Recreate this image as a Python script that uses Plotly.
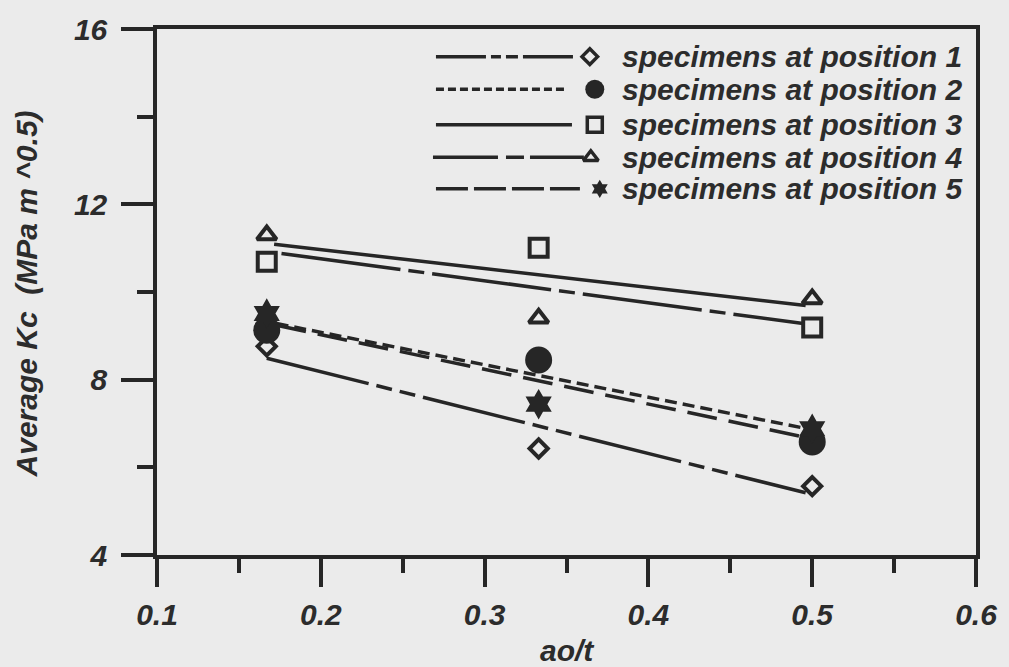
import plotly.graph_objects as go

# ---------------- data ----------------
ao_t = [0.167, 0.333, 0.5]
kc_pos1 = [8.76, 6.43, 5.57]
kc_pos2 = [9.13, 8.45, 6.58]
kc_pos3 = [10.69, 11.01, 9.19]
kc_pos4 = [11.30, 9.40, 9.84]
kc_pos5 = [9.51, 7.44, 6.88]

# trend-line end points
fit1_x = [0.167, 0.496]
fit1_y = [8.49, 5.42]
fit2_x = [0.173, 0.493]
fit2_y = [9.28, 6.91]
fit3_x = [0.1715, 0.496]
fit3_y = [11.09, 9.69]
fit4_x = [0.176, 0.4945]
fit4_y = [10.88, 9.28]
fit5_x = [0.173, 0.494]
fit5_y = [9.24, 6.70]

series_names = [
    "specimens at position 1",
    "specimens at position 2",
    "specimens at position 3",
    "specimens at position 4",
    "specimens at position 5",
]
x_ticks = [0.1, 0.2, 0.3, 0.4, 0.5, 0.6]
y_ticks = [4, 8, 12, 16]

# ---------------- styles ----------------
INK = "#262626"
TXT = "#2c2c2c"
BG = "#ebebeb"
FONT = "Liberation Sans, Arial, sans-serif"

W, H = 1009, 667
ML, MR, MT, MB = 157, 27, 22, 112
PW, PH = W - ML - MR, H - MT - MB

kc = [kc_pos1, kc_pos2, kc_pos3, kc_pos4, kc_pos5]
fits = [(fit1_x, fit1_y), (fit2_x, fit2_y), (fit3_x, fit3_y), (fit4_x, fit4_y), (fit5_x, fit5_y)]

symbols = ["diamond-open", "circle", "square-open", "triangle-up-open", "hexagram"]
sizes = [14, 27, 18, 17, 23]
leg_sizes = [12, 19, 15, 13, 14]
plot_dash = ["105px,8px,16px,8px,16px,8px", "12px,6px", "solid", "120px,8px,16px,8px", "30px,12px"]
leg_dash = ["50px,5px,10px,5px,12px,5px", "8px,4px", "solid", "65px,8px,18px,6px", "32px,6px"]

fig = go.Figure()

for i in range(5):
    fx, fy = fits[i]
    fig.add_trace(go.Scatter(
        x=fx, y=fy, mode="lines",
        line=dict(color=INK, width=3.5, dash=plot_dash[i]),
        showlegend=False, hoverinfo="skip"))

for i in range(5):
    filled = not symbols[i].endswith("open")
    fig.add_trace(go.Scatter(
        x=ao_t, y=kc[i], mode="markers",
        marker=dict(symbol=symbols[i], size=sizes[i], color=INK,
                    line=dict(color=INK, width=4 if not filled else 0)),
        name=series_names[i], showlegend=False))

# ---------------- hand-drawn legend on an overlay axis ----------------
def fx_(px):
    return (px - ML) / PW

def fy_(py):
    return (H - MB - py) / PH

leg_rows = [50, 83, 119, 152, 184]
leg_line_x0 = [438, 438, 438, 435, 438]
leg_line_x1 = [577, 567, 575, 587, 583]
leg_mark_x = [593, 598, 598, 594, 603]
leg_text_x = 623

annotations = []
for i in range(5):
    yy = fy_(leg_rows[i])
    fig.add_trace(go.Scatter(
        x=[fx_(leg_line_x0[i]), fx_(leg_line_x1[i])], y=[yy, yy],
        xaxis="x2", yaxis="y2", mode="lines",
        line=dict(color=INK, width=3.5, dash=leg_dash[i]),
        showlegend=False, hoverinfo="skip"))
    filled = not symbols[i].endswith("open")
    fig.add_trace(go.Scatter(
        x=[fx_(leg_mark_x[i])], y=[yy], xaxis="x2", yaxis="y2", mode="markers",
        marker=dict(symbol=symbols[i], size=leg_sizes[i], color=INK,
                    line=dict(color=INK, width=3.5 if not filled else 0)),
        showlegend=False, hoverinfo="skip"))
    annotations.append(dict(
        x=fx_(leg_text_x), y=yy, xref="paper", yref="paper",
        xanchor="left", yanchor="middle", showarrow=False,
        text=series_names[i],
        font=dict(family=FONT, size=30, color=TXT, weight="bold", style="italic")))

# axis titles
annotations.append(dict(
    x=fx_(26), y=fy_(290), xref="paper", yref="paper",
    xanchor="center", yanchor="middle", showarrow=False, textangle=-90,
    text="Average Kc\u00a0\u00a0(MPa m ^0.5)",
    font=dict(family=FONT, size=30, color=TXT, weight="bold", style="italic")))
annotations.append(dict(
    x=fx_(571), y=fy_(652), xref="paper", yref="paper",
    xanchor="center", yanchor="middle", showarrow=False,
    text="ao/t",
    font=dict(family=FONT, size=30, color=TXT, weight="bold", style="italic")))

tickfont = dict(family=FONT, size=30, color=TXT, weight="bold", style="italic")

fig.update_layout(
    width=W, height=H,
    margin=dict(l=ML, r=MR, t=MT, b=MB, pad=0),
    paper_bgcolor=BG, plot_bgcolor=BG,
    showlegend=False,
    annotations=annotations,
    xaxis=dict(
        range=[0.1, 0.6], tickmode="array", tickvals=x_ticks,
        ticktext=[f"{v:.1f}" for v in x_ticks],
        ticks="outside", ticklen=28, tickwidth=3.5, tickcolor=INK,
        showline=True, linewidth=3.5, linecolor=INK, mirror=True,
        showgrid=False, zeroline=False, tickfont=tickfont,
        ticklabelstandoff=2,
        minor=dict(ticks="outside", ticklen=14, tickwidth=3.5, tickcolor=INK,
                   tickvals=[0.15, 0.25, 0.35, 0.45, 0.55], showgrid=False),
    ),
    yaxis=dict(
        range=[4, 16], tickmode="array", tickvals=y_ticks,
        ticks="outside", ticklen=32, tickwidth=3.5, tickcolor=INK,
        showline=True, linewidth=3.5, linecolor=INK, mirror=True,
        showgrid=False, zeroline=False, tickfont=tickfont,
        ticklabelstandoff=8,
        minor=dict(ticks="outside", ticklen=16, tickwidth=3.5, tickcolor=INK,
                   tickvals=[6, 10, 14], showgrid=False),
    ),
    xaxis2=dict(overlaying="x", anchor="y2", range=[0, 1], visible=False, fixedrange=True),
    yaxis2=dict(overlaying="y", anchor="x2", range=[0, 1], visible=False, fixedrange=True),
)

fig.write_html("out.html")
